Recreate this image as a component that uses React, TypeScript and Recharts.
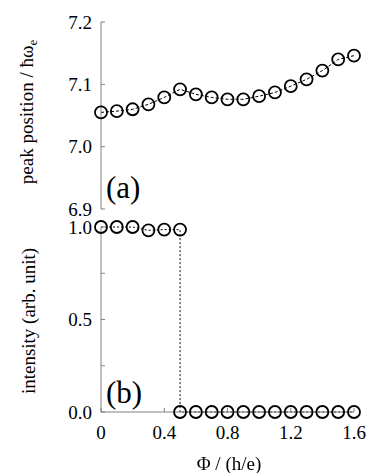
import React from "react";
import { LineChart, Line, XAxis, YAxis } from "recharts";

// flux values (h/e)
const phiA = [0, 0.1, 0.2, 0.3, 0.4, 0.5, 0.6, 0.7, 0.8, 0.9, 1.0, 1.1, 1.2, 1.3, 1.4, 1.5, 1.6];
const peakPos = [7.055, 7.057, 7.06, 7.068, 7.079, 7.092, 7.084, 7.079, 7.076, 7.076, 7.081, 7.087, 7.097, 7.108, 7.122, 7.14, 7.146];

// intensity jumps at 0.5 -> two points at the same flux
const phiB = [0, 0.1, 0.2, 0.3, 0.4, 0.5, 0.5, 0.6, 0.7, 0.8, 0.9, 1.0, 1.1, 1.2, 1.3, 1.4, 1.5, 1.6];
const intensity = [1, 1, 1, 0.982, 0.986, 0.986, 0, 0, 0, 0, 0, 0, 0, 0, 0, 0, 0, 0];

const xTicks = [0, 0.4, 0.8, 1.2, 1.6];
const peakTicks = [6.9, 7.0, 7.1, 7.2];
const intTicks = [0, 0.25, 0.5, 0.75, 1];

const dataA = phiA.map((x, i) => ({ x, y: peakPos[i] }));
const dataB = phiB.map((x, i) => ({ x, y: intensity[i] }));

const FONT = "Liberation Serif";
const FRAME = "#808080";
const tickFont = { fill: "#000", fontSize: 19, fontFamily: FONT };

const dot = { r: 6, stroke: "#000", strokeWidth: 1.8, fill: "none", strokeDasharray: "0" };

const fmtX = (v: number) => (v === 0 ? "0" : v.toFixed(1));
const fmtInt = (v: number) => (v === 0.25 || v === 0.75 ? "" : v.toFixed(1));

const label = (extra: React.CSSProperties): React.CSSProperties => ({
  position: "absolute",
  fontFamily: FONT,
  color: "#000",
  whiteSpace: "nowrap",
  lineHeight: 1,
  ...extra,
});

export default function App() {
  return (
    <div style={{ position: "fixed", left: 0, top: 0, width: 382, height: 473, background: "#fff" }}>
      <div style={{ position: "absolute", left: 0, top: 0 }}>
        <LineChart width={382} height={230} data={dataA} margin={{ top: 22, right: 28, left: 41, bottom: 21 }}>
          <XAxis dataKey="x" type="number" domain={[0, 1.6]} ticks={xTicks} height={0}
            tick={false} tickSize={-4} axisLine={{ stroke: FRAME }} tickLine={{ stroke: FRAME }} />
          <XAxis xAxisId="t" orientation="top" dataKey="x" type="number" domain={[0, 1.6]} ticks={xTicks}
            height={0} tick={false} tickSize={-4} axisLine={{ stroke: FRAME }} tickLine={{ stroke: FRAME }} />
          <YAxis type="number" domain={[6.9, 7.2]} ticks={peakTicks} interval={0} width={60} tickSize={-4} tickMargin={13}
            tick={tickFont} tickFormatter={(v: number) => v.toFixed(1)}
            axisLine={{ stroke: FRAME }} tickLine={{ stroke: FRAME }} />
          <YAxis yAxisId="r" orientation="right" type="number" domain={[6.9, 7.2]} ticks={peakTicks} interval={0}
            width={0} tick={false} tickSize={-4} axisLine={{ stroke: FRAME }} tickLine={{ stroke: FRAME }} />
          <Line dataKey="y" type="linear" stroke="#000" strokeWidth={1} strokeDasharray="3 2"
            dot={dot} activeDot={false} isAnimationActive={false} />
        </LineChart>
      </div>
      <div style={{ position: "absolute", left: 0, top: 218 }}>
        <LineChart width={382} height={255} data={dataB} margin={{ top: 9, right: 28, left: 41, bottom: 0 }}>
          <XAxis dataKey="x" type="number" domain={[0, 1.6]} ticks={xTicks} interval={0} height={61}
            tick={tickFont} tickFormatter={fmtX} tickSize={-4} tickMargin={18}
            axisLine={{ stroke: FRAME }} tickLine={{ stroke: FRAME }} />
          <XAxis xAxisId="t" orientation="top" dataKey="x" type="number" domain={[0, 1.6]} ticks={xTicks}
            height={0} tick={false} tickSize={-4} axisLine={{ stroke: FRAME }} tickLine={{ stroke: FRAME }} />
          <YAxis type="number" domain={[0, 1]} ticks={intTicks} interval={0} width={60} tickSize={-4} tickMargin={13}
            tick={tickFont} tickFormatter={fmtInt}
            axisLine={{ stroke: FRAME }} tickLine={{ stroke: FRAME }} />
          <YAxis yAxisId="r" orientation="right" type="number" domain={[0, 1]} ticks={intTicks} interval={0}
            width={0} tick={false} tickSize={-4} axisLine={{ stroke: FRAME }} tickLine={{ stroke: FRAME }} />
          <Line dataKey="y" type="linear" stroke="#000" strokeWidth={1} strokeDasharray="2 2"
            dot={dot} activeDot={false} isAnimationActive={false} />
        </LineChart>
      </div>

      <div style={label({ left: 28, top: 112, fontSize: 19, transform: "translate(-50%, -50%) rotate(-90deg)" })}>
        peak position / ħω<sub style={{ fontSize: 13 }}>e</sub>
      </div>
      <div style={label({ left: 28, top: 321, fontSize: 19, transform: "translate(-50%, -50%) rotate(-90deg)" })}>
        intensity (arb. unit)
      </div>
      <div style={label({ left: 229, top: 463, fontSize: 19, transform: "translate(-50%, -50%)" })}>
        Φ / (h/e)
      </div>
      <div style={label({ left: 106, top: 187, fontSize: 31, transform: "translateY(-50%)" })}>(a)</div>
      <div style={label({ left: 106, top: 392, fontSize: 31, transform: "translateY(-50%)" })}>(b)</div>
    </div>
  );
}
